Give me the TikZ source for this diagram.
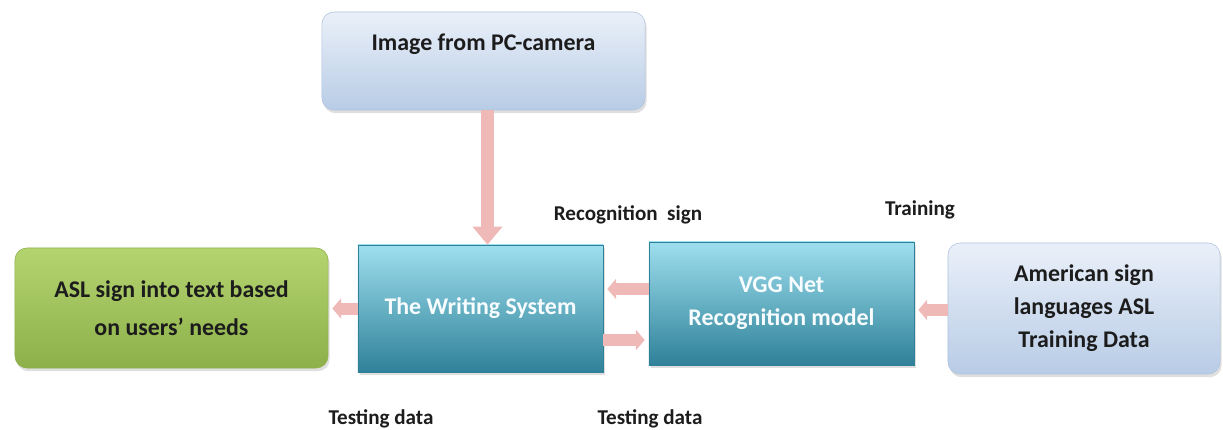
\documentclass[tikz,border=0pt]{standalone}
\usepackage{fontspec}
\setmainfont{Carlito}
\usetikzlibrary{arrows.meta, shadows}

\definecolor{lbtop}{HTML}{EAF0F9}
\definecolor{lbbot}{HTML}{B8CCE6}
\definecolor{lbdraw}{HTML}{AFC3DD}
\definecolor{grtop}{HTML}{B4D470}
\definecolor{grbot}{HTML}{8DB04A}
\definecolor{tltop}{HTML}{9EDFEE}
\definecolor{tlmid}{HTML}{4CAFC8}
\definecolor{tlbot}{HTML}{2F8199}
\definecolor{arrowpink}{HTML}{EFB9B7}
\definecolor{txtdark}{HTML}{1C1C1C}

\begin{document}
\begin{tikzpicture}[x=0.025cm, y=-0.025cm,
    boxtext/.style={align=center, font=\fontsize{17}{23.5}\selectfont\bfseries},
    lightbox/.style={boxtext, rounded corners=0.3cm, top color=lbtop, bottom color=lbbot,
        draw=lbdraw, line width=0.4pt, text=txtdark,
        drop shadow={opacity=0.25, shadow xshift=0.04cm, shadow yshift=-0.08cm}},
    greenbox/.style={boxtext, rounded corners=0.3cm, top color=grtop, bottom color=grbot,
        draw=grbot, line width=0.4pt, text=txtdark,
        drop shadow={opacity=0.25, shadow xshift=0.04cm, shadow yshift=-0.08cm}},
    tealbox/.style={boxtext, top color=tltop, middle color=tlmid, bottom color=tlbot,
        draw=tlbot, line width=0.4pt, text=white!92!tltop,
        drop shadow={opacity=0.25, shadow xshift=0.04cm, shadow yshift=-0.08cm}},
    lbl/.style={font=\fontsize{15}{18}\selectfont\bfseries, text=txtdark},
    pinkarrow/.style={line width=0.3cm, draw=arrowpink,
        -{Triangle[width=0.5cm, length=0.22cm]}, shorten >=0.1cm},
    bigarrow/.style={line width=0.33cm, draw=arrowpink,
        -{Triangle[width=0.72cm, length=0.45cm]}}]

    \useasboundingbox (0,0) rectangle (1223,429);

    % scatole
    \node[lightbox, minimum width=8.075cm, inner ysep=0pt,
          text height=0.95cm, text depth=1.5cm] (camera) at (483.5,61) {Image from PC-camera};
    \node[greenbox, minimum width=7.825cm, minimum height=3.0cm] (needs) at (171.5,308)
        {ASL sign into text based\\[3.5pt]on users’ needs};
    \node[tealbox, minimum width=6.125cm, minimum height=3.175cm] (writing) at (480.5,308.5)
        {The Writing System};
    \node[tealbox, minimum width=6.625cm, minimum height=3.075cm] (vgg) at (781.5,303.5)
        {VGG Net\\Recognition model};
    \node[lightbox, minimum width=6.8cm, minimum height=3.275cm] (data) at (1084,308.5)
        {American sign\\languages ASL\\Training Data};

    % frecce
    \draw[bigarrow] ([xshift=0.1cm]camera.south) -- ([xshift=0.1cm]camera.south |- writing.north);
    \draw[pinkarrow] (writing.west) -- (needs.east |- writing.west);
    \draw[pinkarrow] (vgg.west |- 0,289) -- (writing.east |- 0,289);
    \draw[pinkarrow] (writing.east |- 0,340) -- (vgg.west |- 0,340);
    \draw[pinkarrow] (data.west |- 0,310) -- (vgg.east |- 0,310);

    % etichette
    \node[lbl] (recog) at (628,215) {Recognition\ \ sign};
    \node[lbl] (train) at (920,210) {Training};
    \node[lbl] (testa) at (381,419) {Testing data};
    \node[lbl] (testb) at (650,419) {Testing data};
\end{tikzpicture}
\end{document}
